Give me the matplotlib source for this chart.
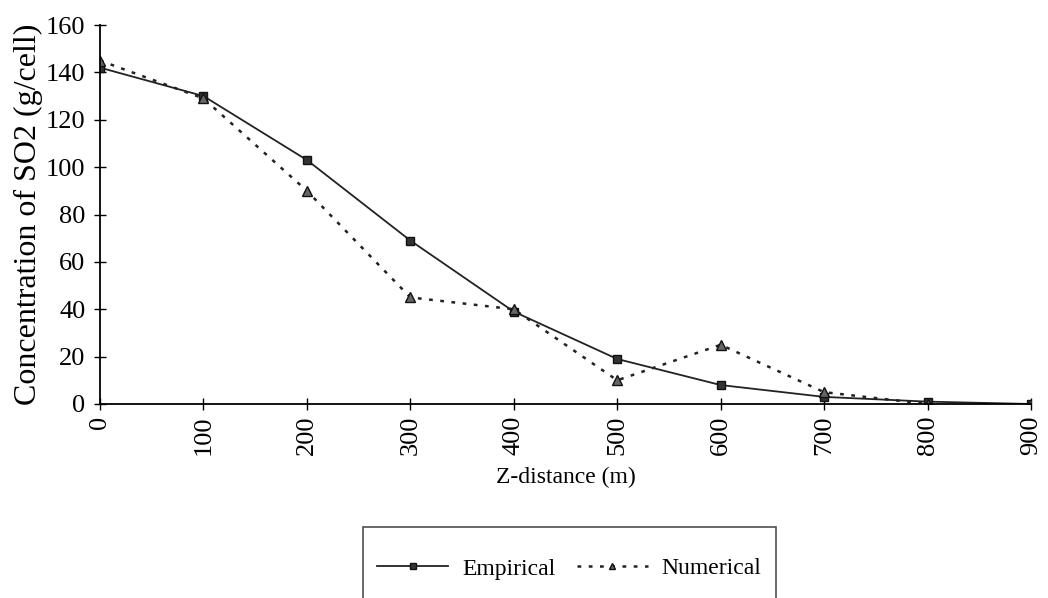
import matplotlib
matplotlib.use("Agg")
import matplotlib.pyplot as plt
from matplotlib.lines import Line2D

# SO2 concentration against z-distance
z_empirical = [0, 100, 200, 300, 400, 500, 600, 700, 800, 900]
so2_empirical = [142, 130, 103, 69, 39, 19, 8, 3, 1, 0]
z_numerical = [0, 100, 200, 300, 400, 500, 600, 700, 800]
so2_numerical = [145, 129, 90, 45, 40, 10, 25, 5, 0]
y_ticks = [0, 20, 40, 60, 80, 100, 120, 140, 160]

plt.rcParams['font.family'] = ['Liberation Serif', 'DejaVu Serif']

fig = plt.figure(figsize=(10.48, 5.98), dpi=100)
ax = fig.add_axes([100 / 1048, 1 - 404 / 598, 931 / 1048, 379 / 598])

emp, = ax.plot(z_empirical, so2_empirical, color='#222222', lw=1.3, marker='s',
               ms=6, mfc='#333333', mec='#111111', label='Empirical')
num, = ax.plot(z_numerical, so2_numerical, color='#222222', lw=1.8,
               ls=(0, (1.5, 3)), marker='^', ms=7, mfc='#666666',
               mec='#111111', label='Numerical')

ax.set_xlim(0, 900)
ax.set_ylim(0, 160)
ax.set_xticks(z_empirical)
ax.set_yticks(y_ticks)
ax.tick_params(axis='x', labelrotation=90, labelsize=19, direction='inout',
               length=9, width=1.0, pad=4)
ax.tick_params(axis='y', labelsize=19, direction='inout', length=9,
               width=1.0, pad=6)
for side in ('top', 'right'):
    ax.spines[side].set_visible(False)
for side in ('left', 'bottom'):
    ax.spines[side].set_linewidth(1.3)

ax.set_xlabel('Z-distance (m)', fontsize=17, labelpad=8)
ax.set_ylabel('Concentration of SO2 (g/cell)', fontsize=23, labelpad=2)

# blank title and blank second row pad the box; it runs off the bottom
blank = Line2D([], [], color='none')
leg = fig.legend([emp, blank, num, blank], ['Empirical', ' ', 'Numerical', ' '],
                 loc='upper left', bbox_to_anchor=(363 / 1048, 1 - 527 / 598),
                 ncol=2, fontsize=17, frameon=True, fancybox=False,
                 edgecolor='#222222', borderpad=0.6, borderaxespad=0,
                 handlelength=3.0, columnspacing=0.9, handletextpad=0.6,
                 markerscale=0.7, title=' ', title_fontsize=5)
leg.get_frame().set_linewidth(1.2)

fig.savefig('out.png', dpi=100)
